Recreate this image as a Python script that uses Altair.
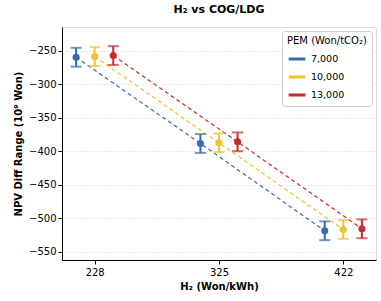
import altair as alt
import pandas as pd

h2_price = [228, 325, 422]
pem_labels = ["7,000", "10,000", "13,000"]
npv_7000 = [-260, -388.5, -518.5]
npv_10000 = [-259, -387.5, -516.5]
npv_13000 = [-257.5, -386, -515.5]
err_7000 = [14, 14, 14]
err_10000 = [14, 14, 14]
err_13000 = [14, 14, 14]
y_ticks = [-550, -500, -450, -400, -350, -300, -250]
colors = ["#3a6bb0", "#f2c12e", "#cc2b2b"]

DODGE = 14.5
rows = []
for i, (lab, vals, errs) in enumerate(zip(pem_labels, [npv_7000, npv_10000, npv_13000],
                                           [err_7000, err_10000, err_13000])):
    for x, v, e in zip(h2_price, vals, errs):
        rows.append({"pem": lab, "h2": x, "xpos": x + (i - 1) * DODGE,
                     "npv": v, "lo": v - e, "hi": v + e})
df = pd.DataFrame(rows)

xs = alt.Scale(domain=[202.5, 447.5], nice=False, zero=False)
ys = alt.Scale(domain=[-562, -215], nice=False, zero=False)
col_scale = alt.Scale(domain=pem_labels, range=colors)
col = alt.Color("pem:N", scale=col_scale,
                legend=alt.Legend(title="PEM (Won/tCO₂)", orient="top-right",
                                  symbolType="stroke", symbolStrokeWidth=3,
                                  symbolSize=280, labelFontSize=9.5, titleFontSize=10,
                                  titleFontWeight="normal", titleFont="DejaVu Sans",
                                  labelFont="DejaVu Sans", strokeColor="#cccccc",
                                  fillColor="white", padding=5, cornerRadius=3,
                                  offset=4, rowPadding=2, titlePadding=3,
                                  titleColor="black", labelColor="black"))

x_axis = alt.Axis(values=h2_price, title="H₂ (Won/kWh)", grid=False,
                  labelFontSize=10, titleFontSize=10, titleFontWeight="bold",
                  labelFont="DejaVu Sans", titleFont="DejaVu Sans",
                  tickColor="black", domainColor="black", labelColor="black",
                  titleColor="black", tickSize=4, labelPadding=3, titlePadding=4,
                  labelOverlap=False)
y_axis = alt.Axis(values=y_ticks, title="NPV Diff Range (10⁹ Won)", grid=True,
                  gridDash=[1, 2], gridColor="#cccccc", gridWidth=0.8,
                  labelFontSize=10, titleFontSize=10, titleFontWeight="bold",
                  labelFont="DejaVu Sans", titleFont="DejaVu Sans",
                  tickColor="black", domainColor="black", labelColor="black",
                  titleColor="black", tickSize=4, labelPadding=2, titlePadding=5,
                  labelOverlap=False)

X = alt.X("xpos:Q", scale=xs, axis=x_axis)
Y = alt.Y("npv:Q", scale=ys, axis=y_axis)
Ylo = alt.Y("lo:Q", scale=ys, axis=y_axis)
Yhi = alt.Y("hi:Q", scale=ys, axis=y_axis)

base = alt.Chart(df)
c2 = alt.Color("pem:N", legend=None, scale=col_scale)
lines = base.mark_line(strokeDash=[4, 3], strokeWidth=1.2).encode(
    x=X, y=Y, color=col, detail="pem:N", order="h2:Q")
bars = base.mark_rule(strokeWidth=2).encode(
    x=X, y=Ylo, y2="hi:Q", color=c2)
cap_lo = base.mark_tick(orient="horizontal", size=11, thickness=2).encode(
    x=X, y=Ylo, color=c2)
cap_hi = base.mark_tick(orient="horizontal", size=11, thickness=2).encode(
    x=X, y=Yhi, color=c2)
pts = base.mark_circle(size=50, opacity=1).encode(
    x=X, y=Y, color=c2)

chart = alt.layer(lines, bars, cap_lo, cap_hi, pts).properties(
    width=314, height=233,
    title=alt.TitleParams("H₂ vs COG/LDG", fontSize=11, fontWeight="bold",
                          font="DejaVu Sans", anchor="middle", frame="group",
                          offset=12, color="black"),
    autosize=alt.AutoSizeParams(type="none"),
    padding={"left": 62, "top": 27, "right": 5, "bottom": 41},
).configure_view(stroke="black", strokeWidth=1.2).configure(background="white")

chart.save("out.html", embed_options={"renderer": "svg", "actions": False})
